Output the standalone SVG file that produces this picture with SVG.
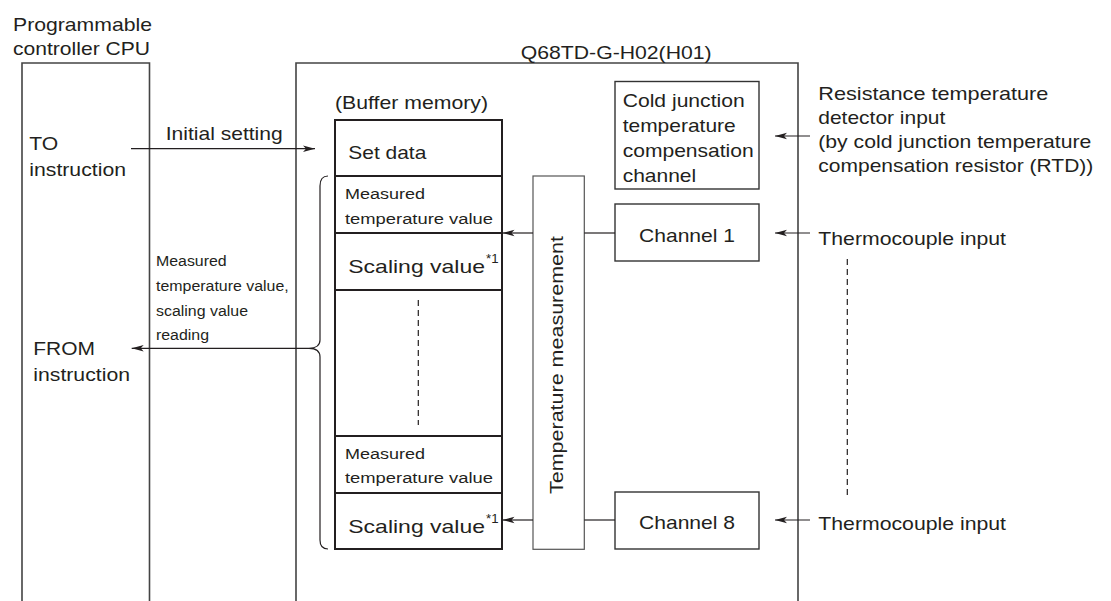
<svg xmlns="http://www.w3.org/2000/svg" width="1111" height="601" viewBox="0 0 1111 601">
<style>
text{font-family:"Liberation Sans",Arial,Helvetica,sans-serif;fill:#231f20}
.t18{font-size:18.5px}
.t15{font-size:15.5px}
.t13{font-size:13.8px}
.sup{font-size:13px}
.outer{fill:none;stroke:#444;stroke-width:1.6}
.buf{fill:#fff;stroke:#231f20;stroke-width:2}
.box{fill:#fff;stroke:#333;stroke-width:1.4}
.thin{fill:#fff;stroke:#555;stroke-width:1.2}
.ln{fill:none;stroke:#231f20;stroke-width:1.2}
.dash{fill:none;stroke:#231f20;stroke-width:1.2;stroke-dasharray:6 4}
</style>
<defs>
<marker id="ah" markerUnits="userSpaceOnUse" markerWidth="13" markerHeight="8" refX="12" refY="4" orient="auto" overflow="visible">
<path d="M0,0.8 L12,4 L0,7.2 L3,4 z" fill="#231f20"/>
</marker>
</defs>
<rect width="1111" height="601" fill="#fff"/>

<g id="cpu">
<path class="outer" d="M22,601 V63 H149.5 V601"/>
<text class="t18" x="13" y="31" textLength="139" lengthAdjust="spacingAndGlyphs">Programmable</text>
<text class="t18" x="13" y="54.5" textLength="137" lengthAdjust="spacingAndGlyphs">controller CPU</text>
<text class="t18" x="29.3" y="149.5" textLength="29" lengthAdjust="spacingAndGlyphs">TO</text>
<text class="t18" x="29.3" y="175.5" textLength="96.7" lengthAdjust="spacingAndGlyphs">instruction</text>
<text class="t18" x="33.3" y="355" textLength="61.7" lengthAdjust="spacingAndGlyphs">FROM</text>
<text class="t18" x="33.3" y="380.5" textLength="96.7" lengthAdjust="spacingAndGlyphs">instruction</text>
</g>

<g id="module">
<path class="outer" d="M296,601 V63 H798 V601"/>
<text class="t18" x="520.7" y="58.5" textLength="191" lengthAdjust="spacingAndGlyphs">Q68TD-G-H02(H01)</text>
</g>

<g id="buffer-memory">
<text class="t18" x="335" y="109.3" textLength="153" lengthAdjust="spacingAndGlyphs">(Buffer memory)</text>
<rect class="buf" x="335" y="120" width="167" height="429"/>
<path class="buf" d="M335,176 H502 M335,233 H502 M335,290 H502 M335,436 H502 M335,493 H502"/>
<text class="t18" x="348.3" y="159.3" textLength="78" lengthAdjust="spacingAndGlyphs">Set data</text>
<text class="t15" x="345" y="199.3" textLength="80" lengthAdjust="spacingAndGlyphs">Measured</text>
<text class="t15" x="345" y="224" textLength="148" lengthAdjust="spacingAndGlyphs">temperature value</text>
<text class="t18" x="348.3" y="272.5" textLength="136.7" lengthAdjust="spacingAndGlyphs">Scaling value</text>
<text class="sup" x="486" y="263" textLength="12.5" lengthAdjust="spacingAndGlyphs">*1</text>
<path class="dash" d="M418.3,300 V425"/>
<text class="t15" x="345" y="459" textLength="80" lengthAdjust="spacingAndGlyphs">Measured</text>
<text class="t15" x="345" y="483.3" textLength="148" lengthAdjust="spacingAndGlyphs">temperature value</text>
<text class="t18" x="348.3" y="532.7" textLength="136.7" lengthAdjust="spacingAndGlyphs">Scaling value</text>
<text class="sup" x="486" y="523.2" textLength="12.5" lengthAdjust="spacingAndGlyphs">*1</text>
</g>

<g id="temperature-measurement">
<rect class="thin" x="533" y="176" width="51.3" height="373.3"/>
<text class="t18" transform="translate(563,365) rotate(-90)" text-anchor="middle" textLength="258" lengthAdjust="spacingAndGlyphs">Temperature measurement</text>
</g>

<g id="cold-junction-channel">
<rect class="box" x="615" y="81.5" width="144" height="107.5"/>
<text class="t18" x="622.7" y="107.3" textLength="122" lengthAdjust="spacingAndGlyphs">Cold junction</text>
<text class="t18" x="622.7" y="131.7" textLength="113" lengthAdjust="spacingAndGlyphs">temperature</text>
<text class="t18" x="622.7" y="157" textLength="131" lengthAdjust="spacingAndGlyphs">compensation</text>
<text class="t18" x="622.7" y="181.7" textLength="73.5" lengthAdjust="spacingAndGlyphs">channel</text>
</g>

<g id="channel1">
<rect class="box" x="615" y="204" width="144" height="57"/>
<text class="t18" x="639" y="241.7" textLength="96" lengthAdjust="spacingAndGlyphs">Channel 1</text>
</g>

<g id="channel8">
<rect class="box" x="615" y="492" width="144" height="57"/>
<text class="t18" x="639" y="529.3" textLength="96" lengthAdjust="spacingAndGlyphs">Channel 8</text>
</g>

<g id="inputs">
<text class="t18" x="818.3" y="100" textLength="230" lengthAdjust="spacingAndGlyphs">Resistance temperature</text>
<text class="t18" x="818.3" y="124" textLength="127" lengthAdjust="spacingAndGlyphs">detector input</text>
<text class="t18" x="818.3" y="148" textLength="273" lengthAdjust="spacingAndGlyphs">(by cold junction temperature</text>
<text class="t18" x="818.3" y="172" textLength="275" lengthAdjust="spacingAndGlyphs">compensation resistor (RTD))</text>
<text class="t18" x="818.3" y="244.5" textLength="187.7" lengthAdjust="spacingAndGlyphs">Thermocouple input</text>
<text class="t18" x="818.3" y="529.5" textLength="187.7" lengthAdjust="spacingAndGlyphs">Thermocouple input</text>
<path class="dash" d="M847.3,259 V497"/>
</g>

<g id="labels">
<text class="t18" x="165.7" y="140" textLength="117" lengthAdjust="spacingAndGlyphs">Initial setting</text>
<text class="t13" x="156" y="266" textLength="70.7" lengthAdjust="spacingAndGlyphs">Measured</text>
<text class="t13" x="156" y="291" textLength="132.7" lengthAdjust="spacingAndGlyphs">temperature value,</text>
<text class="t13" x="156" y="316" textLength="92" lengthAdjust="spacingAndGlyphs">scaling value</text>
<text class="t13" x="156" y="340" textLength="53" lengthAdjust="spacingAndGlyphs">reading</text>
</g>

<g id="connectors">
<path class="ln" d="M131,148.7 H315" marker-end="url(#ah)"/>
<path class="ln" d="M309,348.3 H131.7" marker-end="url(#ah)"/>
<path class="ln" d="M328,176 C322.5,176 320,179 320,186 V340 C320,345 316,348.3 309,348.3 C316,348.3 320,351.5 320,357 V540 C320,546 322.5,549 328,549"/>
<path class="ln" d="M615,233 H584.3"/>
<path class="ln" d="M533,233 H502.5" marker-end="url(#ah)"/>
<path class="ln" d="M615,520 H584.3"/>
<path class="ln" d="M533,520 H502.5" marker-end="url(#ah)"/>
<path class="ln" d="M810,136 H775" marker-end="url(#ah)"/>
<path class="ln" d="M810,233 H775" marker-end="url(#ah)"/>
<path class="ln" d="M810,520 H775" marker-end="url(#ah)"/>
</g>
</svg>
